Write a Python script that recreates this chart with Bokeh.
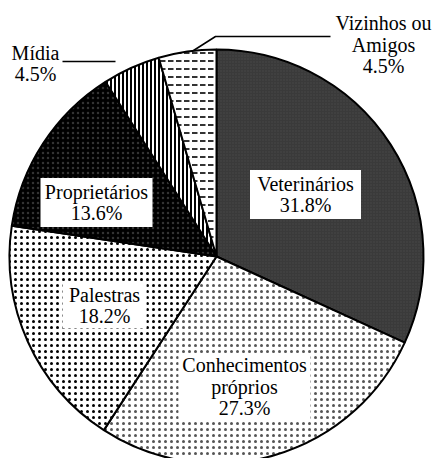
import math
from bokeh.plotting import figure
from bokeh.models import Range1d
from bokeh.core.properties import value
from bokeh.embed import file_html
from bokeh.resources import INLINE

# ---- data ----
categories = ["Veterinários", "Conhecimentos\npróprios", "Palestras",
              "Proprietários", "Mídia", "Vizinhos ou\nAmigos"]
percents = [31.8, 27.3, 18.2, 13.6, 4.5, 4.5]

# ---- styles ----
fill_colors = ["#3a3a3a", "white", "white", "black", "white", "white"]
hatch_patterns = ["dot", "dot", "dot", "dot", "vertical_line", "horizontal_dash"]
hatch_colors = ["#474747", "#555555", "black", "#333333", "black", "#333333"]
hatch_scales = [3, 6, 6, 5, 4, 8]
hatch_weights = [1, 0.8, 5, 1, 2, 2]

W, H = 433, 458
CX, CY, R = 216, 202, 207

p = figure(width=W, height=H, output_backend="svg", toolbar_location=None,
           x_range=Range1d(0, W), y_range=Range1d(0, H), min_border=0)
p.axis.visible = False
p.grid.visible = False
p.outline_line_color = None

total = sum(percents)
angle = math.pi / 2
starts, ends = [], []
for v in percents:
    a = v / total * 2 * math.pi
    starts.append(angle)
    ends.append(angle - a)
    angle -= a

for i in range(len(percents)):
    p.wedge(x=CX, y=CY, radius=R, start_angle=ends[i], end_angle=starts[i],
            fill_color=fill_colors[i], line_color="black", line_width=2,
            hatch_pattern=hatch_patterns[i], hatch_color=hatch_colors[i],
            hatch_scale=hatch_scales[i], hatch_weight=hatch_weights[i])

# label placement (offset of label centre from pie centre, px) and white boxes
label_dx = [89, 28, -112, -120, -181, 167]
label_dy = [62, -130, -49, 54, 193, 212]
box_w = [111, 132, 84, 112, 0, 0]
box_h = [49, 65, 46, 49, 0, 0]
LINE = 21.5

for i, (c, v) in enumerate(zip(categories, percents)):
    lines = c.split("\n") + [f"{v:.1f}%"]
    lx, ly = CX + label_dx[i], CY + label_dy[i]
    if box_w[i]:
        p.rect(x=[lx], y=[ly], width=box_w[i], height=box_h[i],
               fill_color="white", line_color=None)
    n = len(lines)
    ys = [ly + (n - 1) / 2 * LINE - k * LINE for k in range(n)]
    p.text(x=[lx] * n, y=ys, text=lines,
           text_align="center", text_baseline="middle",
           text_font=value("Liberation Serif"), text_font_size="20px",
           text_color="black")

# leader lines
p.line(x=[62, 115], y=[397, 397], line_color="black", line_width=1.5)
p.line(x=[193, 215, 330], y=[408, 422, 422], line_color="black", line_width=1.5)

open("out.html", "w").write(file_html(p, INLINE))
